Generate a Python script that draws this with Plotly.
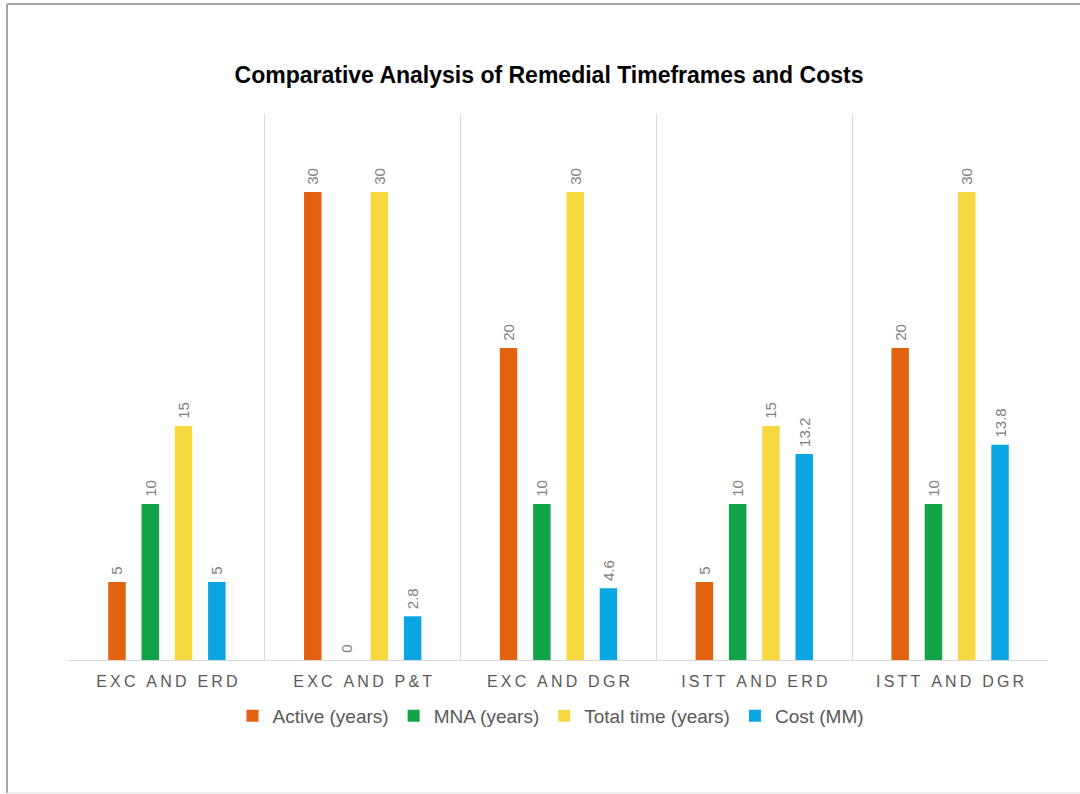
import plotly.graph_objects as go

categories = ["EXC AND ERD", "EXC AND P&T", "EXC AND DGR", "ISTT AND ERD", "ISTT AND DGR"]
series_names = ["Active (years)", "MNA (years)", "Total time (years)", "Cost (MM)"]
active = [5, 30, 20, 5, 20]
mna = [10, 0, 10, 10, 10]
total_time = [15, 30, 30, 15, 30]
cost = [5, 2.8, 4.6, 13.2, 13.8]
colors = ["#E3620F", "#10A347", "#F7D83F", "#0AA6E3"]


def spaced(s):
    # emulate letter spacing of the original axis labels
    out = []
    for ch in s:
        out.append(ch)
    return "\u2009".join(out)


tick_labels = [spaced(c) for c in categories]

fig = go.Figure()
for name, vals, col in zip(series_names, [active, mna, total_time, cost], colors):
    fig.add_trace(go.Bar(
        name=name,
        x=categories,
        y=vals,
        marker=dict(color=col, line=dict(width=0)),
        text=["\u00a0" + (f"{v:g}") for v in vals],
        textposition="outside",
        textangle=-90,
        constraintext="none",
        textfont=dict(family="Liberation Sans, Arial, sans-serif", size=15, color="#808080"),
        cliponaxis=False,
    ))

W, H = 1080, 794
L, R, T, B = 69, 1048, 114, 660


def px_x(px):
    return (px - L) / (R - L)


def px_y(py):
    return (B - py) / (B - T)


fig.update_layout(
    width=W, height=H,
    margin=dict(l=L, r=W - R, t=T, b=H - B, pad=0),
    paper_bgcolor="white",
    plot_bgcolor="white",
    barmode="group",
    bargap=0.32,
    bargroupgap=0.475,
    uniformtext=dict(mode=False),
    font=dict(family="Liberation Sans, Arial, sans-serif", color="#595959"),
    title=dict(
        text="<b>Comparative Analysis of Remedial Timeframes and Costs</b>",
        x=549 / W, xref="container", xanchor="center",
        y=1 - 75 / H, yref="container", yanchor="middle",
        font=dict(family="Liberation Sans, Arial, sans-serif", size=23, color="#000000"),
    ),
    showlegend=True,
    legend=dict(
        orientation="h",
        x=px_x(551), xanchor="center",
        y=px_y(716), yanchor="middle",
        font=dict(size=19, color="#595959"),
        bgcolor="rgba(0,0,0,0)",
        traceorder="normal",
        itemwidth=30,
    ),
    xaxis=dict(
        type="category",
        tickmode="array",
        tickvals=categories,
        ticktext=tick_labels,
        tickson="boundaries",
        showgrid=True,
        gridcolor="#D9D9D9",
        gridwidth=1,
        showline=True,
        linecolor="#D9D9D9",
        linewidth=1,
        ticks="",
        tickfont=dict(size=16, color="#595959"),
        ticklabelstandoff=7,
        range=[-0.5, 4.5],
    ),
    yaxis=dict(
        range=[0, 35],
        visible=False,
        showgrid=False,
        zeroline=False,
    ),
    shapes=[
        dict(type="line", xref="paper", yref="paper",
             x0=px_x(7), x1=px_x(7), y0=px_y(4), y1=px_y(793),
             line=dict(color="#A6A6A6", width=2)),
        dict(type="line", xref="paper", yref="paper",
             x0=px_x(7), x1=px_x(1090), y0=px_y(4), y1=px_y(4),
             line=dict(color="#A6A6A6", width=2)),
        dict(type="line", xref="paper", yref="paper",
             x0=px_x(7), x1=px_x(1090), y0=px_y(793), y1=px_y(793),
             line=dict(color="#E0E0E0", width=1)),
    ],
)

fig.write_html("out.html")
